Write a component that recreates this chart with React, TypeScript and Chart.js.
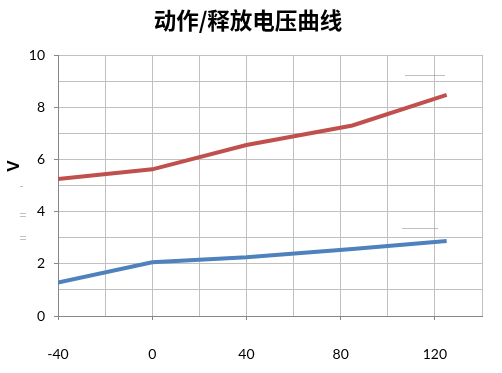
import React, { useEffect, useRef } from "react";
import { Chart, registerables } from "chart.js";

Chart.register(...registerables);

const temperatures = [-40, 0, 40, 85, 125];
const operateVoltage = [5.25, 5.62, 6.55, 7.3, 8.47];
const releaseVoltage = [1.28, 2.06, 2.25, 2.57, 2.87];
const seriesNames = ["动作电压", "释放电压"];
const titleText = "动作/释放电压曲线";
const yAxisTitle = "V";

const decorPlugin = {
  id: "decor",
  afterDraw(chart: any) {
    const ctx = chart.ctx;
    ctx.save();
    ctx.translate(14, 166);
    ctx.rotate(-Math.PI / 2);
    ctx.font = "bold 17px 'Liberation Sans', Arial, sans-serif";
    ctx.fillStyle = "#000";
    ctx.textAlign = "center";
    ctx.textBaseline = "middle";
    ctx.fillText(yAxisTitle, 0, 0);
    ctx.restore();
    ctx.save();
    ctx.strokeStyle = "rgba(150,150,150,0.6)";
    ctx.lineWidth = 1;
    const marks: [number, number, number][] = [
      [20, 186, 3], [20, 213, 6], [20, 216, 6], [20, 236, 6], [20, 239, 6],
      [405, 75, 40], [402, 228, 36],
    ];
    for (const [x, y, w] of marks) {
      ctx.beginPath();
      ctx.moveTo(x, y + 0.5);
      ctx.lineTo(x + w, y + 0.5);
      ctx.stroke();
    }
    ctx.restore();
  },
};

export default function App() {
  const ref = useRef<HTMLCanvasElement>(null);
  useEffect(() => {
    if (!ref.current) return;
    const chart = new Chart(ref.current, {
      type: "line",
      data: {
        datasets: [
          {
            label: seriesNames[0],
            data: temperatures.map((t, i) => ({ x: t, y: operateVoltage[i] })),
            borderColor: "#C0504D",
            backgroundColor: "#C0504D",
            borderWidth: 4,
            pointRadius: 0,
            tension: 0,
          },
          {
            label: seriesNames[1],
            data: temperatures.map((t, i) => ({ x: t, y: releaseVoltage[i] })),
            borderColor: "#4F81BD",
            backgroundColor: "#4F81BD",
            borderWidth: 4,
            pointRadius: 0,
            tension: 0,
          },
        ],
      },
      options: {
        responsive: false,
        animation: false,
        layout: { padding: { left: 14, right: 20, top: 0, bottom: 0 } },
        plugins: {
          legend: { display: false },
          tooltip: { enabled: false },
          title: {
            display: true,
            text: titleText,
            color: "#000",
            font: { family: "'Noto Sans CJK SC'", size: 22.5, weight: "bold" },
            padding: { top: 7, bottom: 21 },
          },
        },
        scales: {
          x: {
            type: "linear",
            min: -40,
            max: 140,
            afterFit: (s: any) => {
              s.height = 57;
              s.paddingLeft = 0;
              s.paddingRight = 0;
            },
            ticks: {
              stepSize: 20,
              autoSkip: false,
              maxRotation: 0,
              padding: 26,
              color: "#000",
              font: { family: "Lato", size: 14 },
              callback: (v: any) => (Number(v) % 40 === 0 && Number(v) !== 160 ? String(v) : ""),
            },
            grid: {
              color: "#c0c0c0",
              lineWidth: 1,
              tickLength: 4,
              tickColor: (c: any) => (c.tick && c.tick.value % 40 === 0 ? "#868686" : "rgba(0,0,0,0)"),
            },
            border: { color: "#868686", width: 1 },
          },
          y: {
            min: 0,
            max: 10,
            afterFit: (s: any) => {
              s.width = 44;
            },
            ticks: {
              stepSize: 1,
              autoSkip: false,
              padding: 9,
              color: "#000",
              font: { family: "Lato", size: 14 },
              callback: (v: any) => (Number(v) % 2 === 0 ? String(v) : ""),
            },
            grid: {
              color: "#c0c0c0",
              lineWidth: 1,
              tickLength: 4,
              tickColor: (c: any) => (c.tick && c.tick.value % 2 === 0 ? "#868686" : "rgba(0,0,0,0)"),
            },
            border: { color: "#868686", width: 1 },
          },
        },
      },
      plugins: [decorPlugin],
    } as any);
    return () => chart.destroy();
  }, []);
  return (
    <div style={{ position: "absolute", left: 0, top: 0, width: 502, height: 373, background: "#fff" }}>
      <canvas ref={ref} width={502} height={373} />
    </div>
  );
}
